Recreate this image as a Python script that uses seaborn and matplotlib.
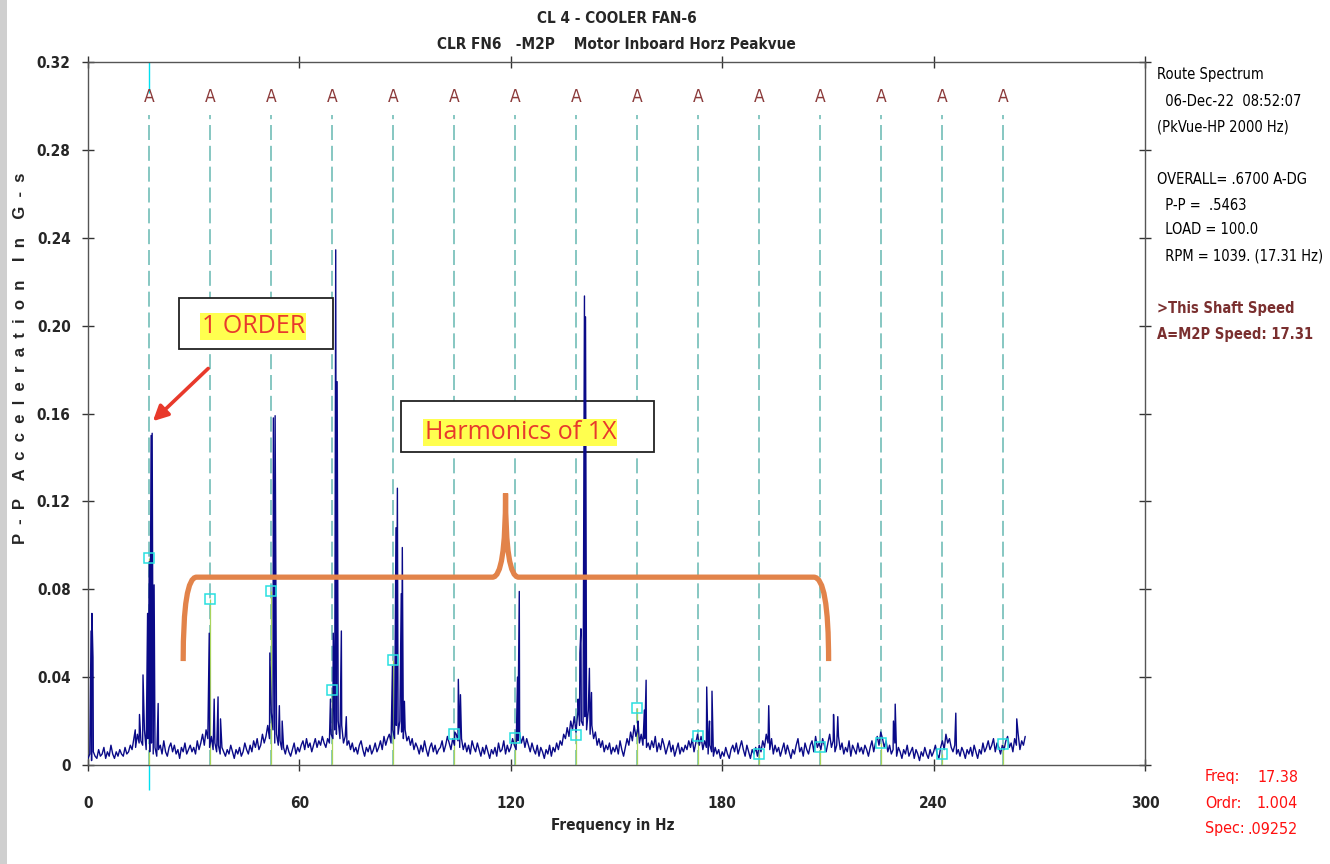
import numpy as np
import pandas as pd
import matplotlib
matplotlib.use("Agg")
import matplotlib.pyplot as plt
from matplotlib.patches import Rectangle, PathPatch
from matplotlib.path import Path
import seaborn as sns

# -------------------------------
# DATA
# -------------------------------
# noise floor: one value every 0.5 Hz from 0 to 266 Hz, in milli-g
floor_mg = [
    3, 5, 2, 6, 4, 3, 7, 4, 5, 8, 3, 6, 4, 9, 5, 3, 6, 4, 7, 5,
    4, 8, 5, 6, 9, 7, 12, 8, 14, 10, 11, 9, 16, 7, 12, 6, 10, 5, 8, 4,
    7, 9, 5, 11, 6, 4, 8, 10, 6, 9, 5, 7, 3, 8, 6, 10, 5, 7, 9, 6,
    8, 5, 11, 7, 10, 14, 9, 16, 12, 8, 13, 7, 10, 6, 9, 5, 8, 6, 4, 7,
    5, 9, 6, 3, 7, 5, 8, 4, 6, 10, 7, 5, 9, 6, 11, 8, 12, 7, 9, 14,
    10, 13, 18, 12, 24, 16, 10, 14, 9, 11, 7, 8, 5, 9, 6, 4, 7, 10, 5, 8,
    6, 9, 11, 7, 12, 8, 10, 6, 9, 12, 8, 11, 9, 13, 10, 8, 12, 10, 14, 12,
    16, 14, 20, 12, 18, 10, 13, 9, 11, 7, 10, 6, 8, 5, 9, 11, 7, 4, 8, 6,
    9, 5, 7, 10, 6, 8, 11, 7, 13, 9, 12, 14, 10, 16, 12, 18, 14, 20, 15, 12,
    16, 11, 13, 9, 12, 7, 10, 8, 5, 9, 6, 11, 7, 4, 8, 10, 6, 9, 5, 7,
    8, 11, 6, 9, 13, 10, 7, 12, 9, 14, 11, 8, 12, 7, 10, 6, 9, 5, 11, 8,
    6, 10, 7, 4, 8, 5, 9, 6, 3, 7, 5, 8, 4, 10, 6, 7, 11, 5, 9, 6,
    8, 12, 9, 7, 11, 14, 10, 13, 8, 12, 9, 6, 10, 7, 5, 9, 4, 8, 6, 3,
    7, 5, 9, 4, 8, 6, 10, 7, 11, 9, 14, 12, 17, 13, 20, 16, 22, 15, 24, 18,
    20, 18, 22, 16, 25, 14, 18, 12, 15, 9, 12, 8, 11, 6, 9, 7, 10, 5, 8, 6,
    9, 5, 11, 7, 4, 8, 12, 9, 15, 11, 18, 13, 16, 10, 14, 9, 12, 8, 10, 7,
    11, 8, 13, 6, 10, 7, 12, 9, 5, 8, 11, 6, 9, 4, 7, 10, 5, 8, 6, 9,
    7, 11, 8, 12, 6, 10, 14, 9, 13, 7, 11, 8, 5, 9, 6, 4, 8, 5, 7, 3,
    6, 4, 8, 5, 3, 7, 9, 6, 10, 5, 8, 11, 7, 4, 9, 6, 3, 7, 5, 8,
    4, 9, 6, 11, 8, 14, 10, 7, 12, 5, 9, 6, 8, 4, 7, 10, 5, 9, 6, 3,
    7, 5, 9, 12, 6, 8, 4, 10, 7, 5, 9, 11, 6, 13, 8, 10, 7, 12, 9, 6,
    10, 14, 8, 11, 6, 9, 13, 7, 10, 5, 8, 6, 11, 4, 9, 7, 5, 10, 6, 8,
    5, 9, 7, 4, 8, 11, 6, 10, 13, 9, 15, 12, 8, 11, 6, 9, 5, 7, 10, 4,
    8, 6, 3, 7, 5, 9, 4, 6, 8, 3, 7, 5, 2, 6, 4, 8, 5, 3, 7, 4,
    6, 9, 5, 3, 8, 11, 7, 14, 10, 12, 8, 6, 9, 5, 7, 4, 8, 6, 3, 7,
    5, 8, 4, 9, 6, 3, 7, 5, 10, 6, 8, 11, 7, 9, 12, 6, 10, 8, 5, 9,
    7, 11, 13, 8, 10, 6, 12, 9, 14, 7, 11, 9, 13,
]
floor_freq = np.arange(len(floor_mg)) * 0.5

# spectral lines rising above the floor
peak_freq = [0.85, 1.1, 1.4,
             13.4, 14.6, 15.6, 16.9, 17.38, 17.9, 18.2, 18.75, 19.9,
             34.4, 35.8, 36.9, 37.6,
             51.6, 52.6, 53.1, 54.3, 55.1,
             68.8, 69.6, 70.3, 70.7, 71.9, 73.3,
             86.4, 87.4, 87.8, 88.9, 89.2, 89.8,
             104.1, 105.1, 105.7,
             121.9, 122.4,
             139.1, 139.6, 139.9, 140.9, 141.2, 142.3, 142.9,
             156.1, 157.9, 158.4,
             175.6, 176.4, 177.1,
             193.2,
             211.6, 212.8,
             228.6, 229.1,
             246.3,
             263.6]
peak_amp = [0.061, 0.069, 0.049,
            0.016, 0.023, 0.041, 0.069, 0.0925, 0.150, 0.151, 0.082, 0.028,
            0.060, 0.030, 0.031, 0.021,
            0.051, 0.158, 0.159, 0.027, 0.020,
            0.030, 0.060, 0.2345, 0.1745, 0.061, 0.022,
            0.045, 0.108, 0.126, 0.078, 0.099, 0.029,
            0.015, 0.039, 0.032,
            0.040, 0.079,
            0.030, 0.051, 0.062, 0.2135, 0.204, 0.044, 0.033,
            0.020, 0.025, 0.0386,
            0.0355, 0.020, 0.0336,
            0.027,
            0.023, 0.022,
            0.020, 0.0277,
            0.0236,
            0.021]

# A-markers: multiples of the M2P speed (17.31 Hz)
harmonic_freq = [17.31, 34.62, 51.93, 69.24, 86.55, 103.86, 121.17, 138.48,
                 155.79, 173.10, 190.41, 207.72, 225.03, 242.34, 259.65]
# cyan squares = spectrum value picked at each order
order_freq = [17.38, 34.62, 51.93, 69.24, 86.55, 103.86, 121.17, 138.48,
              155.79, 173.10, 190.41, 207.72, 225.03, 242.34, 259.65]
order_amp = [0.094, 0.0755, 0.079, 0.034, 0.048, 0.014, 0.0123, 0.0136,
             0.026, 0.013, 0.005, 0.008, 0.010, 0.005, 0.0095]

cursor_freq = 17.38
y_ticks = [0, 0.04, 0.08, 0.12, 0.16, 0.20, 0.24, 0.28, 0.32]
y_tick_labels = ["0", "0.04", "0.08", "0.12", "0.16", "0.20", "0.24", "0.28", "0.32"]
x_ticks = [0, 60, 120, 180, 240, 300]

spec = pd.DataFrame({
    "freq": np.concatenate([floor_freq, peak_freq]),
    "amp": np.concatenate([np.array(floor_mg) * 0.001, peak_amp]),
}).sort_values(["freq", "amp"]).reset_index(drop=True)

# -------------------------------
# STYLE
# -------------------------------
sns.set_style("white")
NARROW = ["DejaVu Sans"]
ARIAL = ["Liberation Sans", "DejaVu Sans"]
CALIB = ["Open Sans", "DejaVu Sans"]
plt.rcParams["font.family"] = ARIAL

fig = plt.figure(figsize=(13.3, 8.64), dpi=100)
ax = fig.add_axes([0.0662, 0.1146, 0.7947, 0.8136])

# order marker lines
ax.vlines(harmonic_freq, 0, 0.296, colors="#72bdb8", linewidth=1.2,
          linestyles=(0, (9, 3.5)), zorder=1)
ax.vlines(cursor_freq, 0.306, 0.32, colors="#00e0f0", linewidth=1.0, zorder=2)
ax.vlines(cursor_freq, -0.0115, 0, colors="#00e0f0", linewidth=1.0,
          zorder=2, clip_on=False)
for f in harmonic_freq:
    ax.text(f, 0.304, "A", color="#8b3a3a", fontsize=12.5, ha="center",
            va="center", family=NARROW, fontstretch="condensed")

# annotation boxes (white filled, under the spectrum)
ax.add_patch(Rectangle((25.9, 0.1895), 43.7, 0.0232, facecolor="white",
                       edgecolor="#222222", linewidth=1.3, zorder=3))
ax.add_patch(Rectangle((88.9, 0.1427), 71.6, 0.0228, facecolor="white",
                       edgecolor="#222222", linewidth=1.3, zorder=3))

# spectrum
ax.vlines(order_freq, 0, order_amp, colors="#a8d45c", linewidth=0.9, zorder=4)
sns.lineplot(data=spec, x="freq", y="amp", estimator=None, sort=True,
             color="#0a0a88", linewidth=1.0, ax=ax, zorder=5)
ax.plot(order_freq, order_amp, "s", mfc="none", mec="#28e0e0", mew=1.1,
        ms=6.5, zorder=6)

# annotation texts
ax.text(46.9, 0.1995, "1 ORDER", color="#e83a2c", fontsize=18, ha="center",
        va="center", family=CALIB, zorder=7,
        bbox=dict(boxstyle="square,pad=0.05", fc="#ffff4f", ec="none"))
ax.text(122.7, 0.1513, "Harmonics of 1X", color="#e83a2c", fontsize=18,
        ha="center", va="center", family=CALIB, zorder=7,
        bbox=dict(boxstyle="square,pad=0.05", fc="#ffff4f", ec="none"))
ax.annotate("", xy=(18.4, 0.1565), xytext=(34.1, 0.1805),
            arrowprops=dict(arrowstyle="-|>,head_length=0.9,head_width=0.45",
                            color="#e8392b", lw=2.6, shrinkA=0, shrinkB=0),
            zorder=7)

# orange brace
brace = Path(
    [(27.0, 0.0473), (27.0, 0.0855), (30.8, 0.0855),
     (114.8, 0.0855),
     (118.5, 0.0855), (118.5, 0.1236),
     (118.5, 0.0855), (122.2, 0.0855),
     (206.0, 0.0855),
     (210.2, 0.0855), (210.2, 0.0473)],
    [Path.MOVETO, Path.CURVE3, Path.CURVE3,
     Path.LINETO,
     Path.CURVE3, Path.CURVE3,
     Path.CURVE3, Path.CURVE3,
     Path.LINETO,
     Path.CURVE3, Path.CURVE3])
ax.add_patch(PathPatch(brace, facecolor="none", edgecolor="#e2834a",
                       linewidth=3.8, capstyle="butt", zorder=8))

# axes
ax.set_xlim(0, 300)
ax.set_ylim(0, 0.32)
ax.set_xticks(x_ticks)
ax.set_xticklabels([str(v) for v in x_ticks])
ax.set_yticks(y_ticks)
ax.set_yticklabels(y_tick_labels)
ax.set_xlabel("")
ax.set_ylabel("")
for side in ["left", "bottom", "top", "right"]:
    ax.spines[side].set_visible(True)
    ax.spines[side].set_color("#555555")
    ax.spines[side].set_linewidth(1.0)
ax.tick_params(axis="x", which="both", top=True, bottom=True,
               direction="inout", length=8, width=1, color="#333333",
               pad=18, labelsize=11)
ax.tick_params(axis="y", which="both", left=True, right=True,
               direction="inout", length=9, width=1, color="#333333",
               pad=8, labelsize=11)
for lab in ax.get_xticklabels() + ax.get_yticklabels():
    lab.set_fontweight("bold")
    lab.set_family(NARROW)
    lab.set_fontstretch("condensed")

# titles and labels
fig.text(0.4635, 0.979, "CL 4 - COOLER FAN-6", ha="center", va="center",
         fontsize=11, fontweight="bold", family=NARROW, fontstretch="condensed")
fig.text(0.4635, 0.948, "CLR FN6   -M2P    Motor Inboard Horz Peakvue",
         ha="center", va="center", fontsize=11, fontweight="bold",
         family=NARROW, fontstretch="condensed")
fig.text(0.0155, 0.585,
         "P  -  P    A  c  c  e  l  e  r  a  t  i  o  n    I  n    G  -  s",
         rotation=90, ha="center", va="center", fontsize=12,
         fontweight="bold", family=ARIAL)
fig.text(0.461, 0.044, "Frequency in Hz", ha="center", va="center",
         fontsize=11, fontweight="bold", family=NARROW, fontstretch="condensed")

# right-hand info panel
info = [
    (75, "Route Spectrum", "black", "normal"),
    (101, "  06-Dec-22  08:52:07", "black", "normal"),
    (127, "(PkVue-HP 2000 Hz)", "black", "normal"),
    (180, "OVERALL= .6700 A-DG", "black", "normal"),
    (205, "  P-P =  .5463", "black", "normal"),
    (230, "  LOAD = 100.0", "black", "normal"),
    (256, "  RPM = 1039. (17.31 Hz)", "black", "normal"),
    (309, ">This Shaft Speed", "#7a2f2f", "bold"),
    (335, "A=M2P Speed: 17.31", "#7a2f2f", "bold"),
]
for py, txt, col, wt in info:
    fig.text(1157 / 1330, 1 - py / 864, txt, ha="left", va="center",
             fontsize=10.5, color=col, fontweight=wt, family=NARROW,
             fontstretch="condensed")

cursor_info = [(777, "Freq:", "17.38"), (803, "Ordr:", "1.004"),
               (829, "Spec:", ".09252")]
for py, name, val in cursor_info:
    fig.text(1205 / 1330, 1 - py / 864, name, ha="left", va="center",
             fontsize=11.5, color="#ff1010", family=NARROW,
             fontstretch="condensed")
    fig.text(1298 / 1330, 1 - py / 864, val, ha="right", va="center",
             fontsize=11.5, color="#ff1010", family=NARROW,
             fontstretch="condensed")

# grey window edge on the left
fig.patches.append(Rectangle((0, 0), 0.005, 1, transform=fig.transFigure,
                             facecolor="#cfcfcf", edgecolor="none"))

fig.savefig("out.png", dpi=100)
